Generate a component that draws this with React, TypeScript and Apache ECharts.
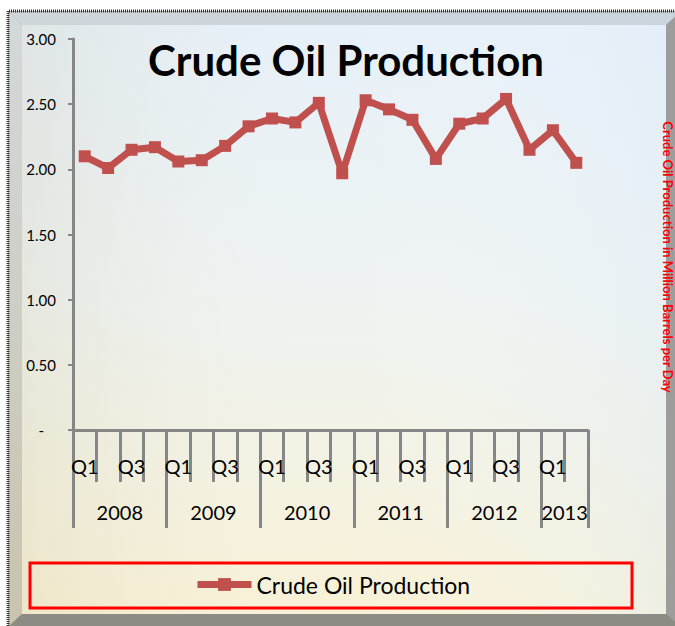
import React, { useEffect, useRef } from "react";
import * as echarts from "echarts";

const categories = [
  "Q1", "Q2", "Q3", "Q4",
  "Q1", "Q2", "Q3", "Q4",
  "Q1", "Q2", "Q3", "Q4",
  "Q1", "Q2", "Q3", "Q4",
  "Q1", "Q2", "Q3", "Q4",
  "Q1", "Q2",
];
const production = [
  2.10, 2.01, 2.15, 2.17, 2.06, 2.07, 2.18, 2.33, 2.39, 2.36, 2.51,
  1.97, 2.53, 2.46, 2.38, 2.08, 2.35, 2.39, 2.54, 2.15, 2.30, 2.05,
];
const years = ["2008", "2009", "2010", "2011", "2012", "2013"];
const yearCenters = [2, 6, 10, 14, 18, 21];
const yearBoundaries = [0, 4, 8, 12, 16, 20, 22];
const seriesName = "Crude Oil Production";
const sideText = "Crude Oil Production in Million Barrels per Day";

const AXIS = "#868686";
const FONT = "Lato";
const RED = "#C0504D";

export default function App() {
  const ref = useRef<HTMLDivElement>(null);
  useEffect(() => {
    if (!ref.current) return;
    const chart = echarts.init(ref.current, null, { renderer: "svg" });
    const option: any = {
      animation: false,
      backgroundColor: "#ffffff",
      title: {
        text: seriesName,
        left: 341,
        top: 34,
        textAlign: "center",
        textStyle: { fontFamily: FONT, fontWeight: "bold", fontSize: 42, color: "#000" },
      },
      graphic: [
        { type: "rect", z: -10, shape: { x: 8, y: 11, width: 680, height: 630 }, style: { fill: "#a9a9a4" } },
        { type: "polygon", z: -9, shape: { points: [[9, 12], [680, 12], [666, 25], [22, 25]] },
          style: { fill: new echarts.graphic.LinearGradient(0, 0, 1, 0, [{ offset: 0, color: "#cfd6da" }, { offset: 1, color: "#c9d4dc" }]) } },
        { type: "polygon", z: -9, shape: { points: [[9, 12], [22, 25], [22, 614], [9, 626]] },
          style: { fill: new echarts.graphic.LinearGradient(0, 0, 0, 1, [{ offset: 0, color: "#d3d8da" }, { offset: 1, color: "#c9c3ae" }]) } },
        { type: "polygon", z: -9, shape: { points: [[680, 12], [666, 25], [666, 614], [680, 626]] },
          style: { fill: "#9d9e9c" } },
        { type: "polygon", z: -9, shape: { points: [[9, 626], [22, 614], [666, 614], [680, 626]] },
          style: { fill: "#8d8c84" } },
        { type: "rect", z: -8, shape: { x: 22, y: 25, width: 644, height: 589 },
          style: { fill: new echarts.graphic.LinearGradient(0, 0, 0, 1, [
            { offset: 0, color: "#e6f0f8" },
            { offset: 0.45, color: "#eef3f2" },
            { offset: 1, color: "#f8f1d6" },
          ]) } },
        { type: "rect", z: -7, shape: { x: 22, y: 25, width: 644, height: 589 },
          style: { fill: new echarts.graphic.LinearGradient(0, 0, 1, 0, [
            { offset: 0, color: "rgba(190,180,140,0.18)" },
            { offset: 0.5, color: "rgba(255,255,255,0)" },
            { offset: 1, color: "rgba(220,235,250,0.35)" },
          ]) } },
        { type: "polyline", z: -6, shape: { points: [[8, 626], [8, 11], [675, 11]] },
          style: { stroke: "#333", lineWidth: 3, lineDash: [1, 1], fill: null } },
        { type: "rect", z: 5, shape: { x: 30, y: 563, width: 602, height: 45 },
          style: { fill: "none", stroke: "#ff0000", lineWidth: 3 } },
        { type: "text", z: 6, x: 674, y: 257, rotation: -Math.PI / 2,
          style: { text: sideText, fill: "#ff0000", font: `bold 13px ${FONT}`, align: "center", verticalAlign: "top" } },
      ],
      legend: {
        data: [seriesName],
        left: 189,
        top: 568,
        itemWidth: 54,
        itemHeight: 16,
        itemGap: 10,
        lineStyle: { width: 7, color: RED },
        textStyle: { fontFamily: FONT, fontSize: 23, color: "#000" },
      },
      grid: { left: 73, right: 87, top: 39, bottom: 196, containLabel: false },
      xAxis: [
        {
          type: "category",
          data: categories,
          boundaryGap: true,
          axisLine: { show: true, lineStyle: { color: AXIS, width: 3 } },
          axisTick: { show: true, interval: 0, length: 52, lineStyle: { color: AXIS, width: 3 } },
          axisLabel: { interval: 1, margin: 26, fontFamily: FONT, fontSize: 20, color: "#000" },
          splitLine: { show: false },
        },
        {
          type: "value",
          min: 0,
          max: 22,
          position: "bottom",
          axisLine: { show: false },
          splitLine: { show: false },
          axisTick: { show: true, customValues: yearBoundaries, length: 98, lineStyle: { color: AXIS, width: 3 } },
          axisLabel: {
            customValues: yearCenters,
            formatter: (v: number) => years[yearCenters.indexOf(v)] ?? "",
            margin: 72,
            fontFamily: FONT,
            fontSize: 20,
            color: "#000",
          },
        },
      ],
      yAxis: {
        type: "value",
        min: 0,
        max: 3,
        interval: 0.5,
        axisLine: { show: true, lineStyle: { color: AXIS, width: 3 } },
        axisTick: { show: true, length: 5, lineStyle: { color: AXIS, width: 2 } },
        splitLine: { show: false },
        axisLabel: {
          margin: 17,
          fontFamily: FONT,
          fontSize: 15,
          color: "#000",
          formatter: (v: number) => (v === 0 ? "{z|-}" : v.toFixed(2)),
          rich: { z: { padding: [0, 12, 0, 0], fontFamily: FONT, fontSize: 15, color: "#000" } },
        },
      },
      series: [
        {
          name: seriesName,
          type: "line",
          xAxisIndex: 0,
          data: production,
          symbol: "rect",
          symbolSize: 12,
          lineStyle: { color: RED, width: 7 },
          itemStyle: { color: RED },
          z: 3,
        },
      ],
    };
    chart.setOption(option);
    return () => chart.dispose();
  }, []);
  return (
    <div
      ref={ref}
      style={{ position: "absolute", left: 0, top: 0, width: 675, height: 626 }}
    />
  );
}
